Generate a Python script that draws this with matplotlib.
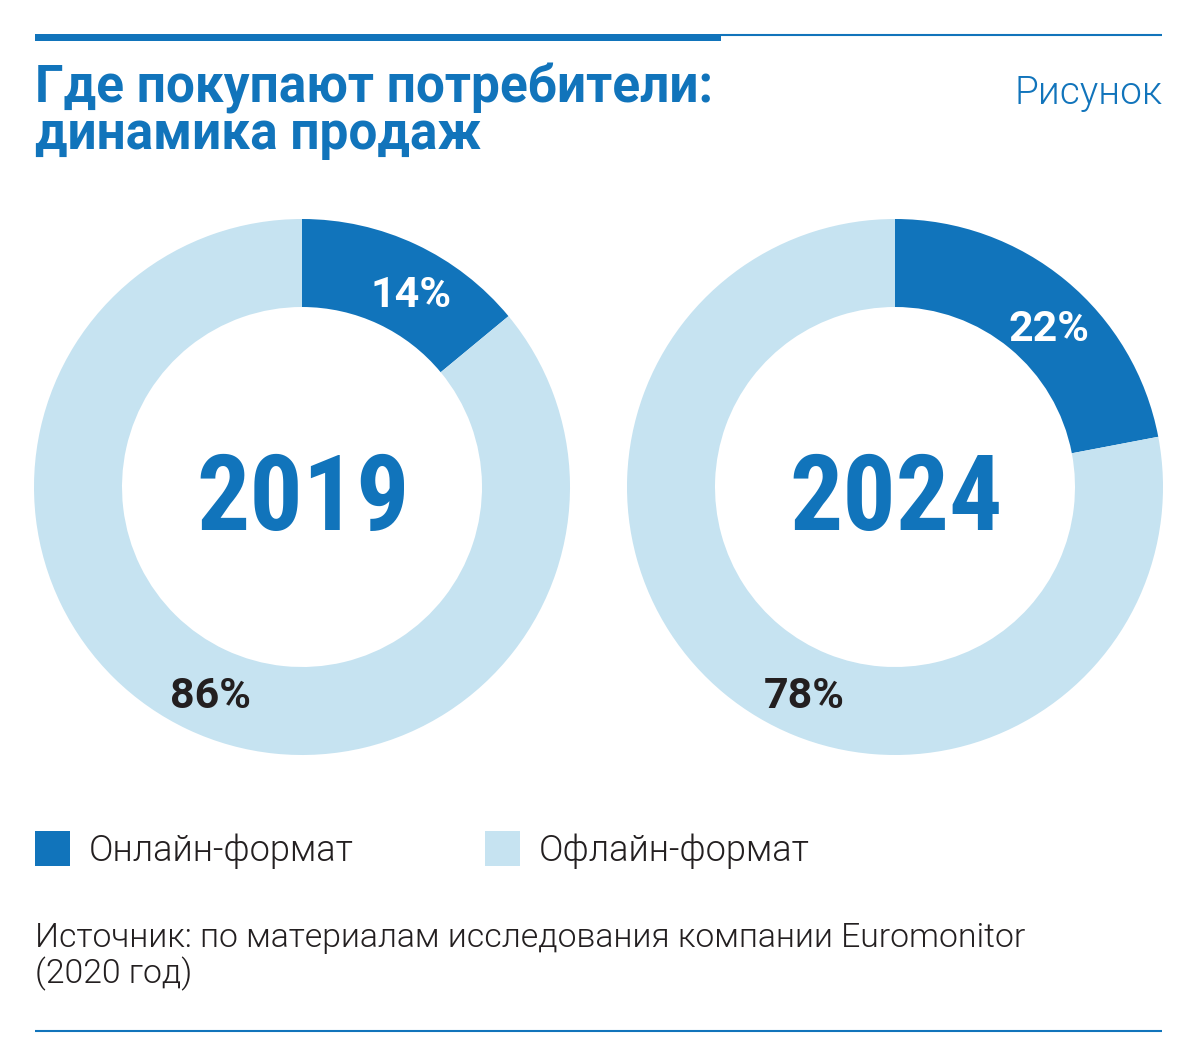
import matplotlib
matplotlib.use('Agg')
import numpy as np
from matplotlib import pyplot as plt
from matplotlib.patches import Rectangle

plt.rcParams['font.family'] = ['Roboto', 'DejaVu Sans']
COND = ['Roboto Condensed', 'DejaVu Sans']

BLUE = '#1174bb'
LIGHT = '#c6e3f1'
DARK = '#231f20'

years = ['2019', '2024']
online = [14, 22]
offline = [86, 78]
legend_labels = ['Онлайн-формат', 'Офлайн-формат']
title = ['Где покупают потребители:', 'динамика продаж']
source = ['Источник: по материалам исследования компании Euromonitor', '(2020 год)']

W, H = 1194, 1063
fig = plt.figure(figsize=(W / 100, H / 100), dpi=100)
ax = fig.add_axes([0, 0, 1, 1])

def Y(y):
    return H - y

# rules at top and bottom
ax.add_patch(Rectangle((35, Y(41)), 686, 7, color=BLUE, lw=0))
ax.plot([721, 1162], [Y(35), Y(35)], color=BLUE, lw=1.5, solid_capstyle='butt')
ax.plot([35, 1162], [Y(1031), Y(1031)], color=BLUE, lw=1.5, solid_capstyle='butt')

ax.text(35, Y(103), title[0], color=BLUE, fontsize=37, fontweight='bold', va='baseline')
ax.text(35, Y(149), title[1], color=BLUE, fontsize=37, fontweight='bold', va='baseline')
ax.text(1162, Y(104), 'Рисунок', color=BLUE, fontsize=28, fontweight=300, ha='right', va='baseline')

centers = [(302, 487), (895, 487)]
R = 268
ring = 88
for (cx, cy), yr, on, off in zip(centers, years, online, offline):
    ax.pie([on, off], colors=[BLUE, LIGHT], startangle=90, counterclock=False,
           center=(cx, Y(cy)), radius=R, wedgeprops=dict(width=ring, linewidth=0))
    rm = R - ring / 2
    a_on = np.radians(90 - (on / 100 * 360 / 2 + 4))
    ax.text(cx + rm * np.cos(a_on), Y(cy) + rm * np.sin(a_on) - 16, f'{on}%', color='white',
            fontsize=31, fontweight='bold', ha='center', va='baseline')
    a_off = np.radians(90 - 204)
    ax.text(cx + rm * np.cos(a_off), Y(cy) + rm * np.sin(a_off) - 16, f'{off}%', color=DARK,
            fontsize=31, fontweight='bold', ha='center', va='baseline')
    ax.text(cx + 1, Y(cy) - 43, yr, color=BLUE, fontsize=76, fontweight='bold', family=COND,
            ha='center', va='baseline')

# legend
for x0, col, lab in zip([35, 485], [BLUE, LIGHT], legend_labels):
    ax.add_patch(Rectangle((x0, Y(866)), 35, 35, color=col, lw=0))
    ax.text(x0 + 54, Y(861), lab, color=DARK, fontsize=26, fontweight=300, va='baseline')

ax.text(35, Y(947), source[0], color=DARK, fontsize=24.3, fontweight=300, va='baseline')
ax.text(35, Y(983), source[1], color=DARK, fontsize=24.3, fontweight=300, va='baseline')

ax.set_xlim(0, W)
ax.set_ylim(0, H)
ax.set_aspect('auto')
ax.axis('off')

plt.savefig('out.png', dpi=100)
